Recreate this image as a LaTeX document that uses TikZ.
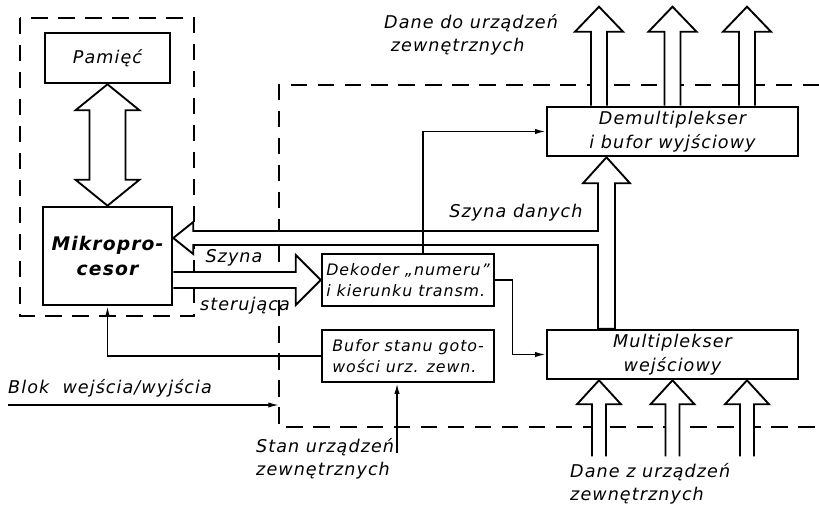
\documentclass[tikz,border=0pt]{standalone}
\usepackage{fontspec}
\setmainfont{DejaVu Sans}
\newfontfamily\lblfont{DejaVu Sans}[LetterSpace=6]
\usetikzlibrary{arrows.meta, calc}
\def\pxu{0.03cm}

\begin{document}
\begin{tikzpicture}[x=0.03cm, y=-0.03cm,
    blok/.style={draw, line width=2.2pt, rectangle, inner sep=0pt, align=center,
                 font=\lblfont\itshape\fontsize{15}{20}\selectfont},
    lbl/.style={inner sep=0pt, font=\lblfont\itshape\fontsize{15}{20}\selectfont},
    busline/.style={line width=1.6pt, line join=miter, fill=white},
    sig/.style={line width=1.3pt, -{Latex[length=9pt,width=4.5pt]}},
    frame/.style={line width=1.5pt, dash pattern=on 14pt off 9pt}]
          \fill[white] (0,0) rectangle (819,509);
          \useasboundingbox (0,0) rectangle (819,509);
          \draw[frame] (20,18) rectangle (194,316);
          \draw[frame] (819,85) -- (279,85) -- (279,427) -- (819,427);
          \node[blok, minimum width=125*\pxu, minimum height=50*\pxu] (pam) at (107.5,58) {Pamięć};
          \node[blok, minimum width=129*\pxu, minimum height=98*\pxu,
                font=\lblfont\itshape\bfseries\fontsize{16}{22}\selectfont] (mikro) at (107.5,256) {Mikropro-\\cesor};
          \node[blok, minimum width=251*\pxu, minimum height=49*\pxu] (demux) at (672.5,131.5) {Demultiplekser\\i bufor wyjściowy};
          \node[blok, minimum width=251*\pxu, minimum height=49*\pxu] (mux) at (672.5,354.5) {Multiplekser\\wejściowy};
          \node[blok, minimum width=172*\pxu, minimum height=52*\pxu, align=left,
                font=\lblfont\itshape\fontsize{13.5}{18}\selectfont] (dek) at (408,280) {Dekoder „numeru”\\i kierunku transm.};
          \node[blok, minimum width=172*\pxu, minimum height=52*\pxu, align=left,
                font=\lblfont\itshape\fontsize{13.5}{18}\selectfont] (buf) at (408,356) {Bufor stanu goto-\\wości urz. zewn.};
          \coordinate (bus) at (606.5,238);
          \filldraw[busline] ($(pam.south)+(-18,26)$) -- ++(-14,0) -- (pam.south) -- ++(32,26) -- ++(-14,0)
            -- ($(mikro.north)+(18,-26)$) -- ++(14,0) -- (mikro.north) -- ++(-32,-26) -- ++(14,0) -- cycle;
          \filldraw[busline] (bus -| mikro.east) -- ++(20,-16) -- ++(0,9) -- ($(bus)+(-8.5,-7)$)
            -- ($(bus |- demux.south)+(-8.5,26)$) -- ++(-15,0) -- (bus |- demux.south) -- ++(23.5,26) -- ++(-15,0)
            -- ($(bus |- mux.north)+(8.5,0)$) -- ($(bus |- mux.north)+(-8.5,0)$) -- ($(bus)+(-8.5,7)$)
            -- ($(bus -| mikro.east)+(20,7)$) -- ++(0,9) -- cycle;
          \filldraw[busline] ($(mikro.east |- dek.west)+(0,-8)$) -- ($(dek.west)+(-25,-8)$) -- ++(0,-17) -- (dek.west)
            -- ++(-25,25) -- ++(0,-17) -- ($(mikro.east |- dek.west)+(0,8)$);
          \foreach \dx in {-73.5,0,74.5} {
            \filldraw[busline] ($(demux.north)+(\dx-8,0)$) -- ++(0,-74) -- ++(-16,0) -- ($(demux.north)+(\dx,-99)$)
              -- ++(24,25) -- ++(-16,0) -- ++(0,74);
            \filldraw[busline] ($(mux.south)+(\dx-7,76)$) -- ++(0,-52) -- ++(-15,0) -- ($(mux.south)+(\dx,0)$)
              -- ++(22,24) -- ++(-15,0) -- ++(0,52);
          }
          \draw[sig] ($(dek.north)+(15,0)$) |- (demux.west);
          \draw[sig] (dek.east) -- ++(17,0) |- (mux.west);
          \draw[sig] (buf.west) -| (mikro.south);
          \coordinate (blok) at (8,405);
          \coordinate (iob) at (279,405);
          \draw[sig] (blok) -- (iob);
          \coordinate (stan) at (397,453);
          \draw[sig] (stan) -- (stan |- buf.south);
          \node[lbl, align=left, anchor=west] (dout) at (384,35) {Dane do urządzeń\\\ zewnętrznych};
          \node[lbl, align=left, anchor=west] (din) at (570,484) {Dane z urządzeń\\zewnętrznych};
          \node[lbl, align=left, anchor=west] (stantxt) at (256,459) {Stan urządzeń\\zewnętrznych};
          \node[lbl, anchor=west] (bloktxt) at (8,388) {Blok \ wejścia/wyjścia};
          \node[lbl] (danetxt) at (516,213) {Szyna danych};
          \node[lbl] (szyna) at (234,258) {Szyna};
          \node[lbl] (ster) at (245,306) {sterująca};
        \end{tikzpicture}
\end{document}
